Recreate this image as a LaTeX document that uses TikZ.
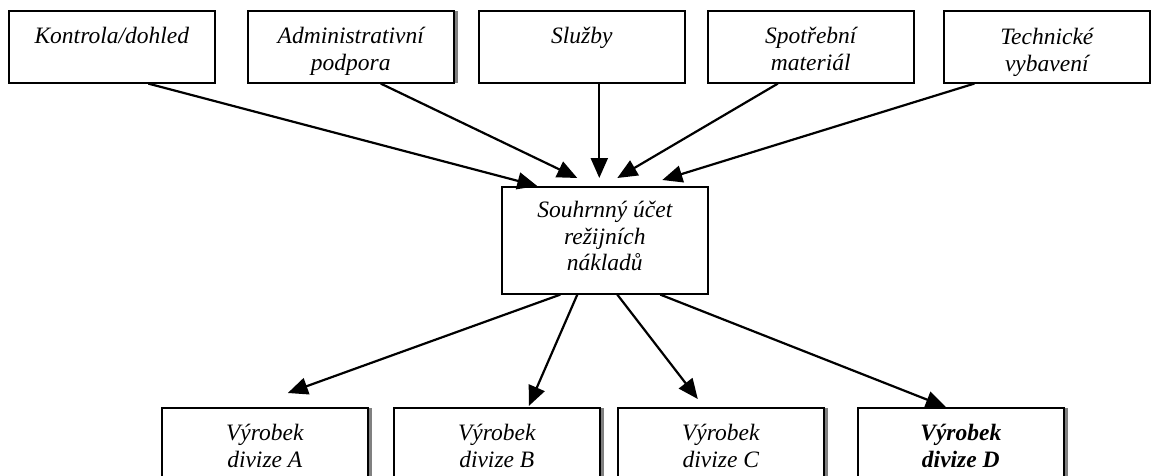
\documentclass[tikz,border=0pt]{standalone}
\usepackage{fontspec}
\setmainfont{Liberation Serif}
\usetikzlibrary{arrows.meta, shadows, positioning}

% text of a box, set from its top edge
\newcommand{\blokText}[3]{\parbox[t][#1][t]{206pt}{\centering\rule{0pt}{#2}#3}}

\begin{document}
\begin{tikzpicture}[x=1pt, y=-1pt,
    blok/.style={draw, line width=1.6pt, fill=white, inner sep=0pt, anchor=north west,
        font=\fontsize{23.5}{26.5}\selectfont\itshape},
    stin/.style={drop shadow={shadow xshift=4.5pt, shadow yshift=0pt, fill=black!50, opacity=1}},
    sipka/.style={-{Triangle[length=20pt, width=17pt]}, line width=2.2pt}]
    \useasboundingbox (0,0) rectangle (1151,475);

    % Druhy rezijnich nakladu
    \node[blok] (kontrola) at (8,10) {\blokText{72pt}{33pt}{Kontrola/dohled}};
    \node[blok, stin] (admin) at (247,10) {\blokText{72pt}{33pt}{Administrativní\\podpora}};
    \node[blok] (sluzby) at (478,10) {\blokText{72pt}{33pt}{Služby}};
    \node[blok] (material) at (707,10) {\blokText{72pt}{33pt}{Spotřební\\materiál}};
    \node[blok] (technika) at (943,10) {\blokText{72pt}{34pt}{Technické\\vybavení}};

    % Souhrnny ucet
    \node[blok] (souhrn) at (501,186) {\blokText{107pt}{31pt}{Souhrnný účet\\režijních\\nákladů}};

    % Vyrobky divizi
    \node[blok, stin] (divA) at (161,407) {\blokText{82pt}{33pt}{Výrobek\\divize A}};
    \node[blok, stin] (divB) at (393,407) {\blokText{82pt}{33pt}{Výrobek\\divize B}};
    \node[blok, stin] (divC) at (617,407) {\blokText{82pt}{33pt}{Výrobek\\divize C}};
    \node[blok, stin] (divD) at (857,407) {\blokText{82pt}{33pt}{\bfseries Výrobek\\divize D}};

    % Rozvrh do souhrnneho uctu
    \draw[sipka] ([xshift=36.5pt]kontrola.south) -- ([xshift=-67.5pt]souhrn.north);
    \draw[sipka] ([xshift=30pt]admin.south) -- ([xshift=-27.5pt, yshift=8pt]souhrn.north);
    \draw[sipka] ([xshift=17.5pt]sluzby.south) -- ([xshift=-5.5pt, yshift=8pt]souhrn.north);
    \draw[sipka] ([xshift=-33pt]material.south) -- ([xshift=12.5pt, yshift=8pt]souhrn.north);
    \draw[sipka] ([xshift=-72.5pt]technika.south) -- ([xshift=57.5pt, yshift=6pt]souhrn.north);

    % Rozvrh na vyrobky
    \draw[sipka] ([xshift=-44.5pt]souhrn.south) -- ([xshift=23pt, yshift=14pt]divA.north);
    \draw[sipka] ([xshift=-27.5pt]souhrn.south) -- ([xshift=32pt, yshift=1pt]divB.north);
    \draw[sipka] ([xshift=12.5pt]souhrn.south) -- ([xshift=-23pt, yshift=8pt]divC.north);
    \draw[sipka] ([xshift=55.5pt]souhrn.south) -- ([xshift=-15pt]divD.north);
\end{tikzpicture}
\end{document}
